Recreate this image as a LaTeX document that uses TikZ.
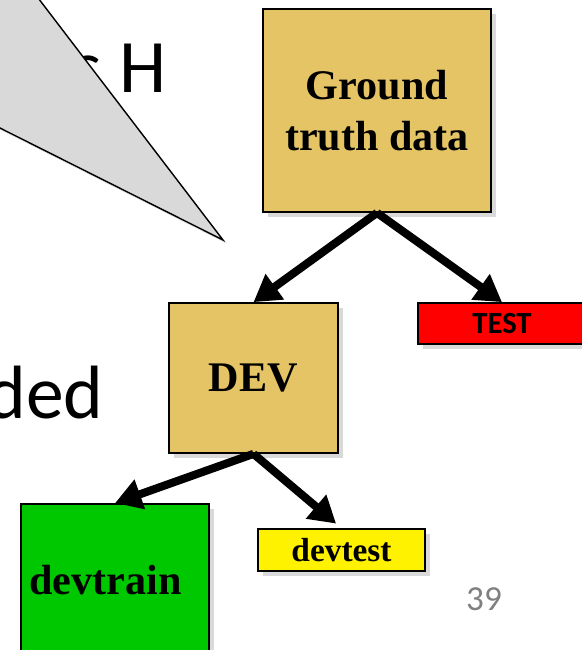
\documentclass[tikz,border=0pt]{standalone}
\usepackage{fontspec}
\setmainfont{Liberation Serif}
\newfontfamily\slidefont{Carlito}
\usepackage{xcolor}
\usetikzlibrary{arrows.meta}
\usetikzlibrary{shadows}
\definecolor{golden}{RGB}{229,196,102}
\definecolor{devgreen}{RGB}{0,200,0}
\definecolor{calloutgray}{RGB}{217,217,217}
\tikzstyle{splitbox} = [draw=black, line width=1pt, rectangle, inner sep=0pt,
align=center, font=\fontsize{24}{29}\selectfont\bfseries,
drop shadow={opacity=0.3, shadow xshift=3pt, shadow yshift=-3pt}]
\tikzstyle{slidetext} = [inner sep=0pt, anchor=base east,
font=\slidefont\fontsize{43}{50}\selectfont]
\tikzstyle{splitarrow} = [line width=4.6pt, -{Triangle[length=15pt,width=17pt]}]

\begin{document}
\begin{tikzpicture}[x=0.02cm, y=-0.02cm]
    \useasboundingbox (0,0) rectangle (582,650);
    % slide text under the callout
    \node[slidetext] (slidetop) at (167,92) {s H};
    \node[slidetext] (slidemid) at (104,418) {ded};
    % callout
    \fill[calloutgray, drop shadow={opacity=0.25, shadow xshift=2pt, shadow yshift=-2pt}]
        (-10,-10) -- (32,-10) -- (223,240) -- (-10,123) -- cycle;
    \draw[line width=0.8pt] (32,-10) -- (223,240) -- (-10,123);
    % boxes
    \node[splitbox, fill=golden, minimum width=4.56cm, minimum height=4.06cm] (gt) at (377,110.5) {Ground\\truth data};
    \node[splitbox, fill=red, minimum width=3.36cm, minimum height=0.82cm,
        font=\slidefont\fontsize{17.5}{20}\selectfont\bfseries] (test) at (502,323.5) {TEST};
    \node[splitbox, fill=golden, minimum width=3.38cm, minimum height=3cm] (dev) at (253.5,378) {DEV};
    \node[splitbox, fill=devgreen, minimum width=3.76cm, minimum height=3.04cm] (devtrain) at (115,580) {devtrain\kern11pt};
    \node[splitbox, fill=yellow, minimum width=3.34cm, minimum height=0.84cm,
        font=\fontsize{19}{22}\selectfont\bfseries] (devtest) at (341.5,550) {devtest};
    \node[font=\slidefont\fontsize{20}{24}\selectfont, text=gray] (pagenum) at (484,599) {39};
    % arrows
    \draw[splitarrow] (gt.south) -- (dev.north);
    \draw[splitarrow] (gt.south) -- (test.north);
    \draw[splitarrow] (dev.south) -- (devtrain.north);
    \draw[splitarrow, shorten >=4pt] (dev.south) -- (devtest.north);
\end{tikzpicture}
\end{document}
